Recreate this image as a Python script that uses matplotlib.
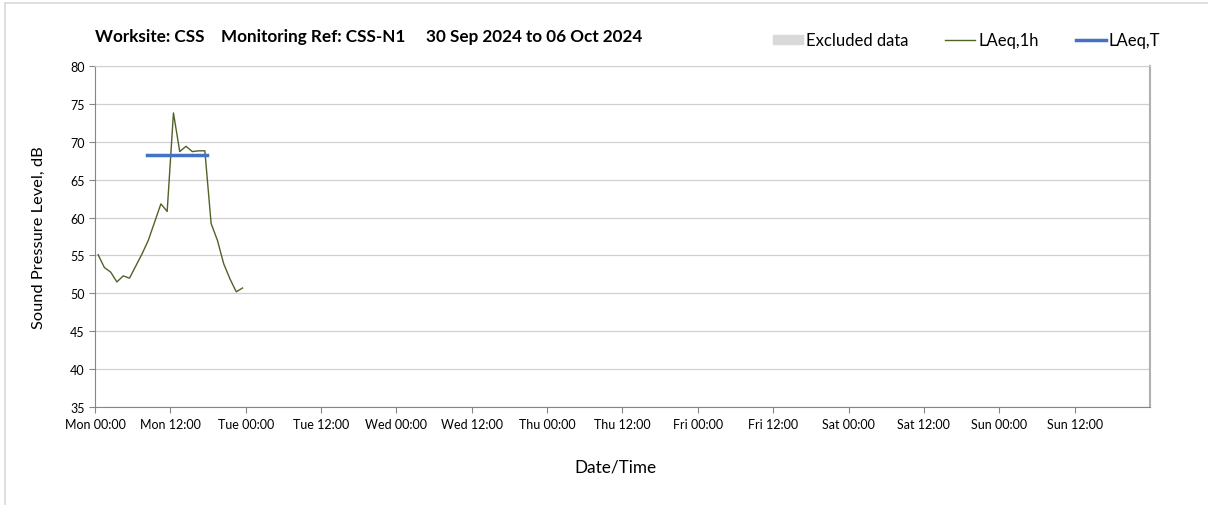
import matplotlib
matplotlib.use("Agg")
import matplotlib.pyplot as plt
import matplotlib.patches as mpatches
from matplotlib.lines import Line2D

plt.rcParams["font.family"] = ["Lato", "DejaVu Sans"]

# hourly LAeq,1h values for Mon 30 Sep 2024 (plotted at mid-hour)
hours = [h + 0.5 for h in range(24)]
laeq_1h = [55.1, 53.4, 52.8, 51.5, 52.3, 52.0, 53.6, 55.2, 57.0, 59.4, 61.8, 60.8,
           73.8, 68.7, 69.4, 68.7, 68.8, 68.8, 59.2, 57.0, 53.9, 51.9, 50.2, 50.7]

# LAeq,T over the daytime period
laeq_t_span = [8.3, 17.8]
laeq_t = 68.3

tick_labels = ["Mon 00:00", "Mon 12:00", "Tue 00:00", "Tue 12:00", "Wed 00:00",
               "Wed 12:00", "Thu 00:00", "Thu 12:00", "Fri 00:00", "Fri 12:00",
               "Sat 00:00", "Sat 12:00", "Sun 00:00", "Sun 12:00"]
title = "Worksite: CSS    Monitoring Ref: CSS-N1     30 Sep 2024 to 06 Oct 2024"

fig = plt.figure(figsize=(12.08, 5.06), dpi=100)
ax = fig.add_axes([0.0786, 0.1937, 0.8734, 0.674])

grid_c = "#d0d0d0"
spine_c = "#868686"

ax.plot(hours, laeq_1h, color="#4f6228", lw=1.0, zorder=3)
ax.plot(laeq_t_span, [laeq_t, laeq_t], color="#4472c4", lw=2.5, zorder=4)

ax.set_xlim(0, 168)
ax.set_ylim(35, 80)
ax.set_yticks(range(35, 81, 5))
ax.set_xticks([12 * i for i in range(14)])
ax.set_xticklabels(tick_labels)
ax.set_xticks([24 * i for i in range(1, 7)], minor=True)

ax.grid(axis="y", color=grid_c, lw=0.9)
ax.grid(axis="x", which="minor", color=grid_c, lw=0.9)
ax.set_axisbelow(True)

for s in ["left", "bottom"]:
    ax.spines[s].set_color(spine_c)
ax.spines["top"].set_color(grid_c)
ax.spines["right"].set_color("#b0b0b0")
ax.spines["right"].set_linewidth(1.5)

ax.tick_params(axis="both", which="major", color=spine_c, length=4, labelsize=9, labelcolor="#000000")
ax.tick_params(axis="x", which="minor", length=0)
ax.tick_params(axis="x", pad=4)

ax.set_ylabel("Sound Pressure Level, dB", fontsize=11.8, labelpad=17)
ax.set_xlabel("Date/Time", fontsize=12.3)
ax.xaxis.set_label_coords(0.493, -0.152)

fig.text(0.0786, 0.926, title, fontsize=12.3, fontweight="bold", ha="left", va="center")

handles = [
    mpatches.Patch(color="#d9d9d9", label="Excluded data"),
    Line2D([], [], color="#4f6228", lw=1.0, label="LAeq,1h"),
    Line2D([], [], color="#4472c4", lw=2.5, label="LAeq,T"),
]
fig.legend(handles=handles, loc="center right", bbox_to_anchor=(0.973, 0.918), ncol=3,
           frameon=False, fontsize=12, handlelength=1.8, handleheight=0.5,
           handletextpad=0.2, columnspacing=2.2)

# light frame around the chart area
fig.add_artist(Line2D([0.0045, 0.0045], [0.0, 0.992], color="#d9d9d9", lw=1.2,
                      transform=fig.transFigure))
fig.add_artist(Line2D([0.0045, 1.0], [0.992, 0.992], color="#d9d9d9", lw=1.2,
                      transform=fig.transFigure))

fig.savefig("out.png", dpi=100)
